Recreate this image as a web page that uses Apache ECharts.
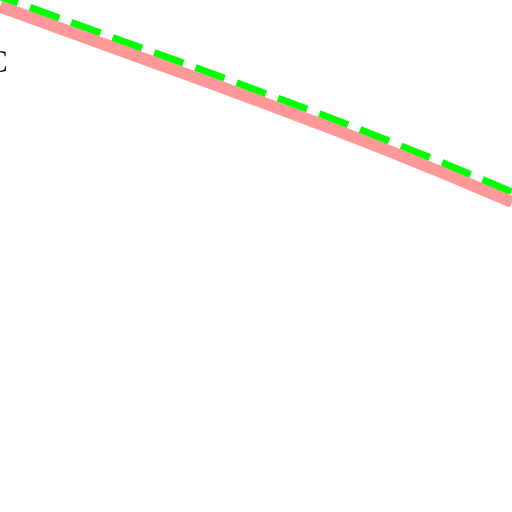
<!DOCTYPE html>
<html><head><meta charset="utf-8">
<script src="https://cdn.jsdelivr.net/npm/echarts@6/dist/echarts.min.js"></script>
<style>html,body{margin:0;padding:0;background:#fff}#c{width:512px;height:512px}</style>
</head><body><div id="c"></div>
<script>
const xValues = [0, 1, 2, 3, 4];
const solidValues = [98.73, 89.65, 80.47, 70.90, 60.55];
const dashedValues = [100.68, 91.60, 82.42, 72.85, 62.5];
const labelText = "C";

const chart = echarts.init(document.getElementById('c'));
chart.setOption({
  animation: false,
  backgroundColor: '#ffffff',
  grid: {left: 0, right: 0, top: 0, bottom: 0},
  xAxis: {type: 'value', min: 0, max: 4, show: false},
  yAxis: {type: 'value', min: 0, max: 100, show: false},
  graphic: [{
    type: 'text', left: -13, top: 48,
    style: {text: labelText, font: '31px "Liberation Serif"', fill: '#000'}
  }],
  series: [
    {type: 'line', smooth: true, data: xValues.map((x, i) => [x, solidValues[i]]), showSymbol: false,
     lineStyle: {color: '#ff9999', width: 12}},
    {type: 'line', smooth: true, data: xValues.map((x, i) => [x, dashedValues[i]]), showSymbol: false,
     lineStyle: {color: '#00ff00', width: 7, type: [31, 13], dashOffset: 12}}
  ]
});
</script></body></html>
